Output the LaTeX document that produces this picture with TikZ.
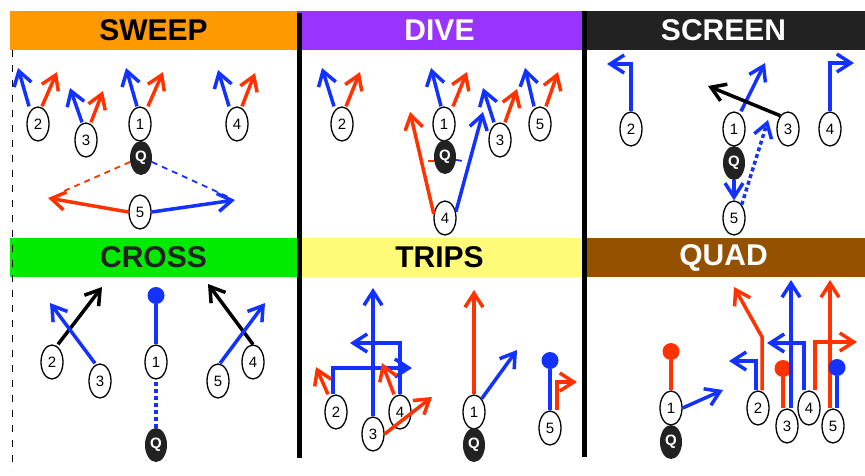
\documentclass[tikz,border=0pt]{standalone}
\usepackage{fontspec}
\setmainfont{Liberation Sans}
\usepackage{tikz}
\usetikzlibrary{positioning}
\usetikzlibrary{arrows.meta}
\usetikzlibrary{shapes,calc}
\definecolor{routeblue}{RGB}{20,50,255}
\definecolor{routered}{RGB}{255,50,0}
\definecolor{sweeporange}{RGB}{255,153,0}
\definecolor{divepurple}{RGB}{153,51,255}
\definecolor{screengray}{RGB}{34,34,34}
\definecolor{crossgreen}{RGB}{0,235,0}
\definecolor{tripsyellow}{RGB}{255,250,120}
\definecolor{quadbrown}{RGB}{148,82,0}

\begin{document}
\begin{tikzpicture}[x=1pt,y=-1pt,
    player/.style={ellipse,draw=black,line width=1.3pt,fill=white,minimum width=22pt,minimum height=34pt,inner sep=0pt,font=\fontsize{15}{15}\selectfont},
    qb/.style={ellipse,fill=screengray,text=white,minimum width=22pt,minimum height=34pt,inner sep=0pt,font=\bfseries\fontsize{15}{15}\selectfont},
    header/.style={minimum width=#1,minimum height=39pt,inner sep=0pt,font=\bfseries\fontsize{30}{30}\selectfont},
    route/.style={line width=3.5pt,-{Straight Barb[length=14pt,width=18pt,sharp]}},
    block/.style={line width=3.5pt,-{Circle[length=17pt,line width=0pt]}},
    motion/.style={line width=3.5pt,dash pattern=on 4pt off 3pt},
    fake/.style={line width=1.8pt,dash pattern=on 6pt off 5pt}]
\useasboundingbox (0,0) rectangle (865,475);

\node[header=287pt,fill=sweeporange] (hsweep) at (153.5,30.5) {SWEEP};
\node[header=285pt,fill=divepurple,text=white] (hdive) at (439.5,30.5) {DIVE};
\node[header=283pt,fill=screengray,text=white] (hscreen) at (723.5,30.5) {SCREEN};
\node[header=287pt,fill=crossgreen,text=screengray] (hcross) at (153.5,257.5) {CROSS};
\node[header=285pt,fill=tripsyellow] (htrips) at (439.5,257.5) {TRIPS};
\node[header=283pt,fill=quadbrown,text=white] (hquad) at (723.5,257.5) {QUAD};
\fill (297,13) rectangle (302,458);
\fill (582,11) rectangle (587,457);
\draw[line width=1.5pt,dash pattern=on 7pt off 8pt] (12.5,50) -- (12.5,470);

% SWEEP
\node[player] (sw2) at (38,124) {2};
\node[player] (sw3) at (86,140) {3};
\node[player] (sw1) at (140,124) {1};
\node[player] (sw4) at (237,124) {4};
\node[qb] (swq) at (141,158) {Q};
\node[player] (sw5) at (140,212) {5};
\coordinate (sw2b) at (18,68);   \coordinate (sw2r) at (57,72);
\coordinate (sw3b) at (70,88);   \coordinate (sw3r) at (103,91);
\coordinate (sw1b) at (126,68);  \coordinate (sw1r) at (163,72);
\coordinate (sw4b) at (218,70);  \coordinate (sw4r) at (255,73);
\coordinate (swl) at (48,198);   \coordinate (swr) at (235,200);
\draw[route,routeblue] ([xshift=-9pt]sw2.north) -- (sw2b);
\draw[route,routered] ([xshift=4pt]sw2.north) -- (sw2r);
\draw[route,routeblue] ([xshift=-4pt]sw3.north) -- (sw3b);
\draw[route,routered] ([xshift=5pt]sw3.north) -- (sw3r);
\draw[route,routeblue] ([xshift=-3pt]sw1.north) -- (sw1b);
\draw[route,routered] ([xshift=8pt]sw1.north) -- (sw1r);
\draw[route,routeblue] ([xshift=-8pt]sw4.north) -- (sw4b);
\draw[route,routered] ([xshift=5pt]sw4.north) -- (sw4r);
\draw[route,routered] (sw5.west) -- (swl);
\draw[route,routeblue] (sw5.east) -- (swr);
\draw[fake,routered] (swq.200) -- ($(swq.200)!0.8!(swl)$);
\draw[fake,routeblue] (swq.340) -- ($(swq.340)!0.92!(swr)$);

% DIVE
\node[player] (dv2) at (342,124) {2};
\node[player] (dv1) at (444,124) {1};
\node[player] (dv3) at (500,140) {3};
\node[player] (dv5) at (540,124) {5};
\node[qb] (dvq) at (445,157) {Q};
\node[player] (dv4) at (445,218) {4};
\coordinate (dv2b) at (322,68);  \coordinate (dv2r) at (360,72);
\coordinate (dv1b) at (431,68);  \coordinate (dv1r) at (467,72);
\coordinate (dv3b) at (483,88);  \coordinate (dv3r) at (517,89);
\coordinate (dv5b) at (525,68);  \coordinate (dv5r) at (558,72);
\coordinate (dv4r) at (410,112); \coordinate (dv4b) at (483,112);
\coordinate (dvqr) at (428,161); \coordinate (dvqb) at (463,161);
\draw[route,routeblue] ([xshift=-8pt]dv2.north) -- (dv2b);
\draw[route,routered] ([xshift=4pt]dv2.north) -- (dv2r);
\draw[route,routeblue] ([xshift=-3pt]dv1.north) -- (dv1b);
\draw[route,routered] ([xshift=9pt]dv1.north) -- (dv1r);
\draw[route,routeblue] ([xshift=-6pt]dv3.north) -- (dv3b);
\draw[route,routered] ([xshift=5pt]dv3.north) -- (dv3r);
\draw[route,routeblue] ([xshift=-6pt]dv5.north) -- (dv5b);
\draw[route,routered] ([xshift=6pt]dv5.north) -- (dv5r);
\draw[route,routered] (dv4.160) -- (dv4r);
\draw[route,routeblue] (dv4.30) -- (dv4b);
\draw[fake,routered] (dvq.200) -- (dvqr);
\draw[fake,routeblue] (dvq.345) -- (dvqb);

% SCREEN
\node[player] (sc2) at (631,129) {2};
\node[player] (sc1) at (734,129) {1};
\node[player] (sc3) at (788,129) {3};
\node[player] (sc4) at (830,129) {4};
\node[qb] (scq) at (734,163) {Q};
\node[player] (sc5) at (734,218) {5};
\coordinate (sc2b) at (607,64);  \coordinate (sc4b) at (854,63);
\coordinate (sc1b) at (765,63);  \coordinate (sc3k) at (708,86);
\coordinate (sc3d) at (768,120);
\draw[route,routeblue] (sc2.north) |- (sc2b);
\draw[route,routeblue] (sc4.north) |- (sc4b);
\draw[route,routeblue] ([xshift=7pt]sc1.north) -- (sc1b);
\draw[route,black] (sc3.120) -- (sc3k);
\draw[route,routeblue] (scq.south) -- (sc5.north);
\draw[route,motion,routeblue] (sc5.60) -- (sc3d);

% CROSS
\node[player] (cr2) at (52,362) {2};
\node[player] (cr3) at (100,381) {3};
\node[player] (cr1) at (156,362) {1};
\node[player] (cr5) at (218,381) {5};
\node[player] (cr4) at (253,362) {4};
\node[qb] (crq) at (156,445) {Q};
\coordinate (cr2k) at (102,287); \coordinate (cr3b) at (50,303);
\coordinate (cr1d) at (156,287); \coordinate (cr4k) at (208,284);
\coordinate (cr5b) at (265,303);
\draw[route,black] ([xshift=6pt]cr2.north) -- (cr2k);
\draw[route,routeblue] ([xshift=-5pt]cr3.north) -- (cr3b);
\draw[block,routeblue] (cr1.north) -- (cr1d);
\draw[motion,routeblue] (crq.north) -- (cr1.south);
\draw[route,black] (cr4.north) -- (cr4k);
\draw[route,routeblue] ([xshift=2pt]cr5.north) -- (cr5b);

% TRIPS
\node[player] (tr2) at (336,412) {2};
\node[player] (tr3) at (373,434) {3};
\node[player] (tr4) at (400,412) {4};
\node[player] (tr1) at (474,412) {1};
\node[player] (tr5) at (550,428) {5};
\node[qb] (trq) at (474,445) {Q};
\coordinate (tr2b) at (412,368); \coordinate (tr2r) at (316,367);
\coordinate (tr3b) at (373,288); \coordinate (tr3r) at (432,397);
\coordinate (tr4b) at (350,343); \coordinate (tr4r) at (382,363);
\coordinate (tr1r) at (474,290); \coordinate (tr1b) at (517,350);
\coordinate (tr5d) at (550,352); \coordinate (tr5r) at (577,382);
\draw[route,routeblue] ([xshift=-3pt]tr2.north) |- (tr2b);
\draw[route,routered] ([xshift=-8pt]tr2.north) -- (tr2r);
\draw[route,routeblue] (tr3.north) -- (tr3b);
\draw[route,routered] (tr3.east) -- (tr3r);
\draw[route,routeblue] (tr4.north) |- (tr4b);
\draw[route,routered] ([xshift=-6pt]tr4.north) -- (tr4r);
\draw[route,routered] (tr1.north) -- (tr1r);
\draw[route,routeblue] (tr1.60) -- (tr1b);
\draw[block,routeblue] (tr5.north) -- (tr5d);
\draw[route,routered] ([xshift=7pt]tr5.north) |- (tr5r);

% QUAD
\node[player] (qd1) at (671,408) {1};
\node[qb] (qdq) at (671,442) {Q};
\node[player] (qd2) at (758,408) {2};
\node[player] (qd3) at (787,426) {3};
\node[player] (qd4) at (809,408) {4};
\node[player] (qd5) at (833,426) {5};
\coordinate (qd1d) at (671,343); \coordinate (qd1b) at (723,390);
\coordinate (qd2b) at (729,361); \coordinate (qd2c) at (762,337);
\coordinate (qd2r) at (734,287); \coordinate (qd3d) at (783,360);
\coordinate (qd3b) at (791,280); \coordinate (qd4b) at (767,343);
\coordinate (qd4r) at (857,342); \coordinate (qd5r) at (830,280);
\coordinate (qd5d) at (837,359);
\draw[block,routered] (qd1.north) -- (qd1d);
\draw[route,routeblue] (qd1.east) -- (qd1b);
\draw[route,routeblue] ([xshift=-2pt]qd2.north) |- (qd2b);
\draw[route,routered] ([xshift=4pt]qd2.north) -- (qd2c) -- (qd2r);
\draw[block,routered] ([xshift=-4pt]qd3.north) -- (qd3d);
\draw[route,routeblue] ([xshift=4pt]qd3.north) -- (qd3b);
\draw[route,routeblue] ([xshift=-5pt]qd4.north) |- (qd4b);
\draw[route,routered] ([xshift=6pt]qd4.north) |- (qd4r);
\draw[route,routered] ([xshift=-3pt]qd5.north) -- (qd5r);
\draw[block,routeblue] ([xshift=4pt]qd5.north) -- (qd5d);
\end{tikzpicture}
\end{document}
